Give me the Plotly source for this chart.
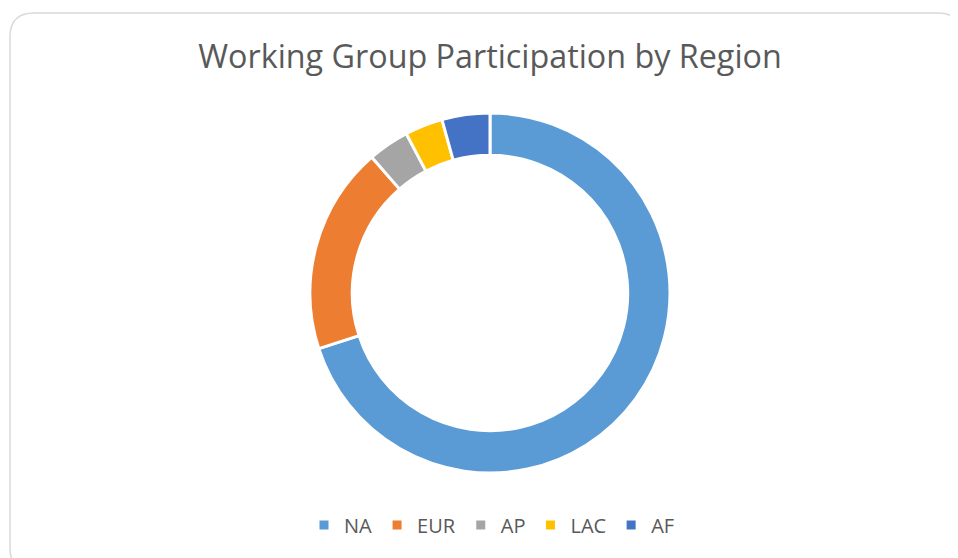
import plotly.graph_objects as go

regions = ["NA", "EUR", "AP", "LAC", "AF"]
participation = [70.0, 18.6, 3.7, 3.4, 4.3]
colors = ["#5B9BD5", "#ED7D31", "#A5A5A5", "#FFC000", "#4472C4"]

W, H = 958, 558
OFF = 8  # page body margin offset

def px(x):
    return (x - OFF) / W

def py(y):
    return 1 - (y - OFF) / H

fig = go.Figure(go.Pie(
    labels=regions,
    values=participation,
    hole=0.765,
    sort=False,
    direction="clockwise",
    rotation=0,
    textinfo="none",
    hoverinfo="label+value+percent",
    marker=dict(colors=colors, line=dict(color="white", width=3)),
    domain=dict(x=[px(310), px(670)], y=[py(473), py(113)]),
))

# rounded chart-area border
r = 24
x0, y0, x1, y1 = 10, 13, 962, 572
path = (
    f"M {px(x0)} {py(y0 + r)} "
    f"Q {px(x0)} {py(y0)} {px(x0 + r)} {py(y0)} "
    f"L {px(x1 - r)} {py(y0)} "
    f"Q {px(x1)} {py(y0)} {px(x1)} {py(y0 + r)} "
    f"L {px(x1)} {py(y1 - r)} "
    f"Q {px(x1)} {py(y1)} {px(x1 - r)} {py(y1)} "
    f"L {px(x0 + r)} {py(y1)} "
    f"Q {px(x0)} {py(y1)} {px(x0)} {py(y1 - r)} Z"
)

fig.update_layout(
    width=W,
    height=H,
    margin=dict(l=0, r=0, t=0, b=0),
    paper_bgcolor="white",
    plot_bgcolor="white",
    font=dict(family="Open Sans", color="#595959"),
    title=dict(
        text="Working Group Participation by Region",
        x=px(490), xanchor="center",
        y=py(57), yanchor="middle",
        font=dict(size=32.3, color="#595959", family="Open Sans"),
    ),
    showlegend=True,
    legend=dict(
        orientation="h",
        x=px(492), xanchor="center",
        y=py(525), yanchor="middle",
        font=dict(size=20, color="#595959"),
        itemwidth=30,
        traceorder="normal",
    ),
    shapes=[dict(type="path", xref="paper", yref="paper", path=path,
                 line=dict(color="#D9D9D9", width=1.5), layer="below")],
)

fig.write_html("out.html")
